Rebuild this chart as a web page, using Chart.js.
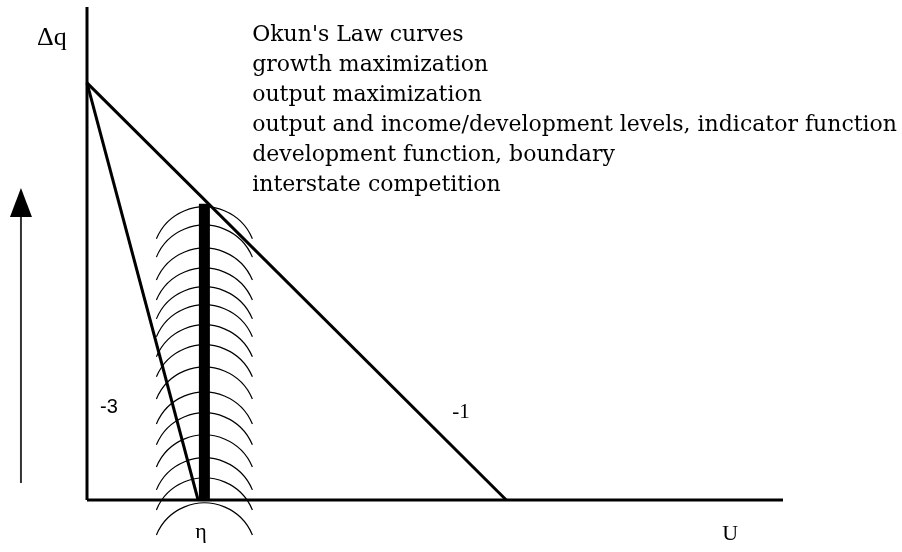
<!DOCTYPE html>
<html>
<head>
<meta charset="utf-8">
<script src="https://cdn.jsdelivr.net/npm/chart.js@4"></script>
<style>
html,body{margin:0;padding:0;background:#fff;}
#wrap{width:902px;height:552px;}
</style>
</head>
<body>
<div id="wrap"><canvas id="c" width="902" height="552"></canvas></div>
<script>
// ---- data (in chart units) ----
const uAxis = [[0, 0], [16.6, 0]];          // U axis
const qAxis = [[0, 0], [0, 11.82]];         // Δq axis
const okunMinus1 = [[0, 10], [10, 0]];      // slope -1
const okunMinus3 = [[0, 10], [2.65, 0]];    // slope -3
const boundary = [[2.8, 0], [2.8, 7.1]];    // development function, boundary
const arcCenterX = 2.8;
const arcApexY = [7.03, 6.59, 6.04, 5.56, 5.11, 4.68, 4.20, 3.72, 3.19, 2.59, 2.09, 1.56, 1.01, 0.53, -0.07];
const growthArrow = [[-1.575, 0.41], [-1.575, 7.48]];
const legendLines = [
  "Okun's Law curves",
  "growth maximization",
  "output maximization",
  "output and income/development levels, indicator function",
  "development function, boundary",
  "interstate competition"
];
const axisLabels = { y: "Δq", x: "U", eta: "η" };
const slopeLabels = ["-3", "-1"];

const toPts = a => a.map(p => ({x: p[0], y: p[1]}));

const decor = {
  id: 'decor',
  beforeDatasetsDraw(chart) {
    const {ctx, scales: {x, y}} = chart;
    ctx.save();
    ctx.strokeStyle = '#000';
    ctx.lineWidth = 1.2;
    const r = 52, th = Math.asin(48 / 52);
    const cx = x.getPixelForValue(arcCenterX);
    arcApexY.forEach(v => {
      const py = y.getPixelForValue(v);
      ctx.beginPath();
      ctx.arc(cx, py + r, r, -Math.PI / 2 - th, -Math.PI / 2 + th);
      ctx.stroke();
    });
    ctx.restore();
  },
  afterDatasetsDraw(chart) {
    const {ctx, scales: {x, y}} = chart;
    ctx.save();
    // arrow
    const ax = x.getPixelForValue(growthArrow[0][0]);
    const ay0 = y.getPixelForValue(growthArrow[0][1]);
    const tip = y.getPixelForValue(growthArrow[1][1]);
    const headLen = 29, headHalf = 11;
    ctx.strokeStyle = '#333';
    ctx.lineWidth = 2;
    ctx.beginPath();
    ctx.moveTo(ax, ay0);
    ctx.lineTo(ax, tip + headLen);
    ctx.stroke();
    ctx.fillStyle = '#000';
    ctx.beginPath();
    ctx.moveTo(ax, tip);
    ctx.lineTo(ax - headHalf, tip + headLen);
    ctx.lineTo(ax + headHalf, tip + headLen);
    ctx.closePath();
    ctx.fill();

    // texts
    ctx.fillStyle = '#000';
    ctx.textBaseline = 'alphabetic';
    ctx.textAlign = 'left';
    ctx.font = '22px "DejaVu Serif"';
    const lx = x.getPixelForValue(3.94), ly = y.getPixelForValue(11.0);
    legendLines.forEach((t, i) => ctx.fillText(t, lx, ly + i * 30));

    ctx.font = '26px "Liberation Serif"';
    ctx.fillText(axisLabels.y, x.getPixelForValue(-1.19), y.getPixelForValue(10.91));
    ctx.font = '22px "Liberation Serif"';
    ctx.fillText(axisLabels.x, x.getPixelForValue(15.15), y.getPixelForValue(-0.96));
    ctx.fillText(axisLabels.eta, x.getPixelForValue(2.58), y.getPixelForValue(-0.91));
    ctx.font = '20px "Liberation Sans"';
    ctx.fillText(slopeLabels[0], x.getPixelForValue(0.31), y.getPixelForValue(2.09));
    ctx.font = '21px "Liberation Serif"';
    ctx.fillText(slopeLabels[1], x.getPixelForValue(8.71), y.getPixelForValue(1.97));
    ctx.restore();
  }
};

const lineDs = (data, w) => ({
  data: toPts(data), showLine: true, borderColor: '#000', borderWidth: w,
  pointRadius: 0, pointHoverRadius: 0, clip: false, fill: false, tension: 0,
  borderCapStyle: 'butt'
});

new Chart(document.getElementById('c'), {
  type: 'scatter',
  data: {
    datasets: [
      lineDs(uAxis, 3),
      lineDs(qAxis, 3),
      lineDs(okunMinus1, 3),
      lineDs(okunMinus3, 3),
      lineDs(boundary, 11)
    ]
  },
  options: {
    responsive: false,
    animation: false,
    events: [],
    layout: { padding: { left: 87, right: 119, top: 7, bottom: 52 } },
    scales: {
      x: { type: 'linear', min: 0, max: 16.6, display: false },
      y: { type: 'linear', min: 0, max: 11.82, display: false }
    },
    plugins: { legend: { display: false }, tooltip: { enabled: false }, title: { display: false } }
  },
  plugins: [decor]
});
</script>
</body>
</html>
